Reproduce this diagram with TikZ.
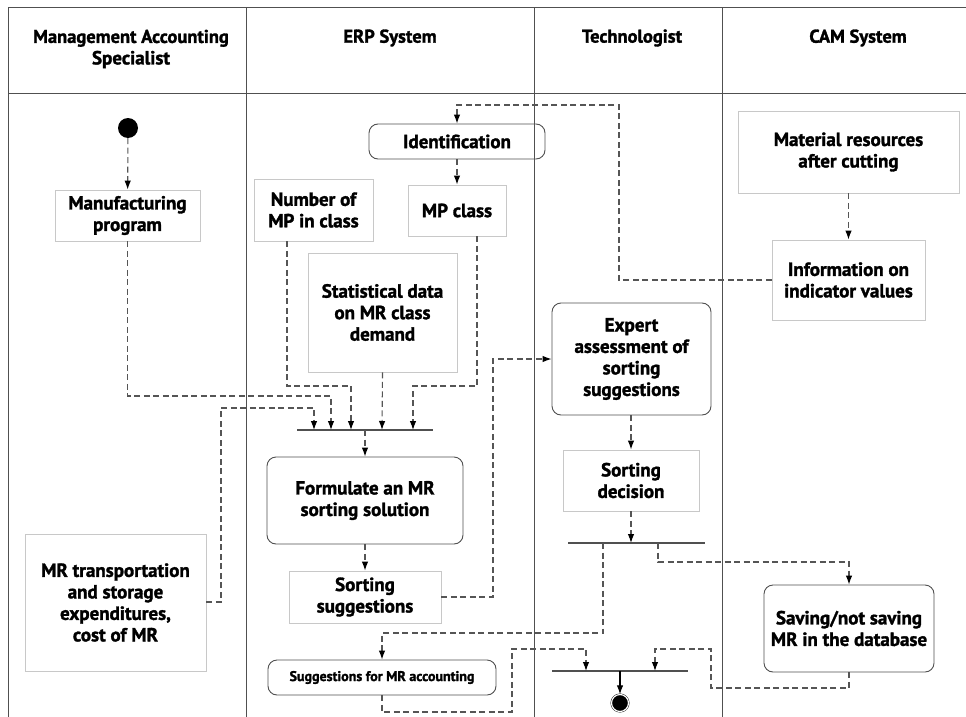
\documentclass[tikz,border=0pt]{standalone}
\usepackage{fontspec}
\setmainfont{PT Sans}[BoldFeatures={FakeBold=1.6}]
\usetikzlibrary{arrows.meta, positioning}
\definecolor{laneline}{RGB}{80,80,80}
\definecolor{objline}{RGB}{200,200,200}
\definecolor{flowline}{RGB}{85,85,85}

\begin{document}
\begin{tikzpicture}[x=1pt, y=-1pt,
    every node/.style={font=\bfseries\fontsize{19}{21.5}\selectfont, align=center, inner sep=0pt},
    objbox/.style={draw=objline, line width=0.9pt},
    actbox/.style={draw=laneline, line width=0.9pt, rounded corners=9pt},
    flow/.style={draw=flowline, line width=1.1pt, dash pattern=on 6pt off 3.5pt, -{Latex[length=9pt,width=6.5pt,black]}},
    joinbar/.style={draw=laneline, line width=1.1pt}
  ]
    \useasboundingbox (0,0) rectangle (966,717);
    % swimlanes
    \draw[laneline, line width=1pt] (8,717) -- (8,8) -- (966,8);
    \draw[laneline, line width=1pt] (8,93) -- (966,93);
    \foreach \x in {246,534,722}
        \draw[laneline, line width=1pt] (\x,8) -- (\x,717);
    \node (hmas) at (131,49) {\fontsize{18.5}{22}\selectfont Management Accounting\\Specialist};
    \node (herp) at (390,38) {\fontsize{18.5}{22}\selectfont ERP System};
    \node (htech) at (632,38) {\fontsize{18.5}{22}\selectfont Technologist};
    \node (hcam) at (858,38) {\fontsize{18.5}{22}\selectfont CAM System};

    % start and end
    \node[circle, fill=black, minimum size=20pt] (start) at (128,128) {};
    \node[circle, fill=black, draw=black, double=white, double distance=1.2pt, minimum size=17pt] (finish) at (620,703) {};

    % objects and actions
    \node[objbox, minimum width=145pt, minimum height=51pt] (mfg) at (127.5,215.5) {Manufacturing\\program};
    \node[objbox, minimum width=119pt, minimum height=62pt] (nummp) at (313.5,210) {Number of\\MP in class};
    \node[objbox, minimum width=98pt, minimum height=51pt] (mpclass) at (457,210.5) {MP class};
    \node[actbox, minimum width=176pt, minimum height=35pt] (ident) at (457,141.5) {Identification};
    \node[objbox, minimum width=149pt, minimum height=119pt] (stat) at (382.5,312.5) {Statistical data\\on MR class\\demand};
    \node[objbox, minimum width=221pt, minimum height=82pt] (matres) at (848.5,152) {Material resources\\after cutting};
    \node[objbox, minimum width=153pt, minimum height=80pt] (info) at (848.5,280) {Information on\\indicator values};
    \node[actbox, minimum width=159pt, minimum height=112pt] (expert) at (631.5,359) {Expert\\assessment of\\sorting\\suggestions};
    \node[actbox, minimum width=196pt, minimum height=87pt] (formulate) at (365,500.5) {Formulate an MR\\sorting solution};
    \node[objbox, minimum width=152pt, minimum height=52pt] (sortsug) at (365,597) {Sorting\\suggestions};
    \node[objbox, minimum width=181pt, minimum height=137pt] (mrtrans) at (115.5,602.5) {MR transportation\\and storage\\expenditures,\\cost of MR};
    \node[actbox, minimum width=228pt, minimum height=35pt, font=\bfseries\fontsize{14}{16}\selectfont] (sugacc) at (382,677.5) {Suggestions for MR accounting};
    \node[objbox, minimum width=136pt, minimum height=61pt] (sortdec) at (631,480.5) {Sorting\\decision};
    \node[actbox, minimum width=170pt, minimum height=87pt] (saving) at (849,628.5) {Saving/not saving\\MR in the database};

    % synchronisation bars
    \draw[joinbar] (297,430) coordinate (bar1w) -- (433,430) coordinate (bar1e);
    \draw[joinbar] (568,543) coordinate (bar2w) -- (705,543) coordinate (bar2e);
    \draw[joinbar] (552,671) coordinate (bar3w) -- (688,671) coordinate (bar3e);
    \coordinate (b1a) at (314,430);
    \coordinate (b1b) at (331,430);
    \coordinate (b1c) at (351,430);
    \coordinate (b1d) at (382,430);
    \coordinate (b1e) at (413,430);
    \coordinate (b1out) at (365,430);
    \coordinate (b2in) at (631,543);
    \coordinate (b2a) at (603,543);
    \coordinate (b2b) at (658,543);
    \coordinate (b3a) at (586,671);
    \coordinate (b3b) at (655,671);
    \coordinate (b3out) at (620,671);

    % flows
    \draw[flow] (start) -- (mfg);
    \draw[flow] (ident) -- (mpclass);
    \draw[flow] (info.west) -- (619,280) -- (619,105) -- (457,105) -- (ident.north);
    \draw[flow] (matres) -- (info);
    \draw[flow] (mfg.south) -- (127.5,396) -- (331,396) -- (b1b);
    \draw[flow] (mrtrans.east |- 0,602) -- (221,602) -- (221,408) -- (314,408) -- (b1a);
    \draw[flow] (nummp.south -| 287,0) -- (287,386) -- (351,386) -- (b1c);
    \draw[flow] (stat.south) -- (b1d);
    \draw[flow] (mpclass.south -| 477,0) -- (477,386) -- (413,386) -- (b1e);
    \draw[flow] (b1out) -- (formulate);
    \draw[flow] (formulate) -- (sortsug);
    \draw[flow] (sortsug.east) -- (493,597) -- (493,359) -- (expert.west);
    \draw[flow] (expert.south -| 631,0) -- (sortdec.north);
    \draw[flow] (sortdec) -- (b2in);
    \draw[flow] (b2b) -- (658,562) -- (849,562) -- (saving.north);
    \draw[flow] (b2a) -- (603,633) -- (382,633) -- (sugacc.north);
    \draw[flow] (sugacc.south) -- (382,712) -- (512,712) -- (512,649) -- (586,649) -- (b3a);
    \draw[flow] (saving.south) -- (849,688) -- (711,688) -- (711,649) -- (655,649) -- (b3b);
    \draw[draw=black, line width=1.1pt, -{Latex[length=9pt,width=6.5pt]}] (b3out) -- (finish);
\end{tikzpicture}
\end{document}
